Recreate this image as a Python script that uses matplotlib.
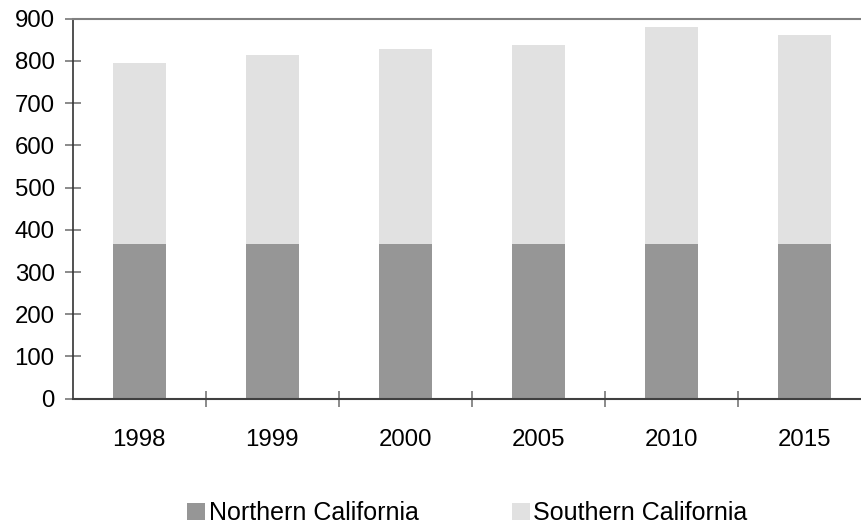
import matplotlib
matplotlib.use("Agg")
import matplotlib.pyplot as plt
from matplotlib.patches import Patch

years = ["1998", "1999", "2000", "2005", "2010", "2015"]
northern = [366, 366, 366, 366, 366, 366]
southern = [429, 448, 463, 472, 515, 496]
series_names = ["Northern California", "Southern California"]

plt.rcParams['font.family'] = ['Liberation Sans', 'DejaVu Sans']

fig = plt.figure(figsize=(8.62, 5.25), dpi=100)
ax = fig.add_axes([72.7 / 862, (525 - 398.7) / 525, 798 / 862, 380 / 525])

x = list(range(len(years)))
ax.bar(x, northern, width=0.4, color="#969696", label=series_names[0])
ax.bar(x, southern, width=0.4, bottom=northern, color="#e1e1e1", label=series_names[1])

ax.set_xlim(-0.5, len(years) - 0.5)
ax.set_ylim(0, 900)
ax.set_yticks(range(0, 1000, 100))
ax.set_xticks(x)
ax.set_xticklabels(years)
ax.set_xticks([i + 0.5 for i in range(len(years) - 1)], minor=True)

ax.spines["right"].set_visible(False)
ax.spines["top"].set_color("#808080")
ax.spines["top"].set_linewidth(1.5)
ax.spines["left"].set_color("#333333")
ax.spines["left"].set_linewidth(1.2)
ax.spines["bottom"].set_color("#404040")
ax.spines["bottom"].set_linewidth(1.5)

ax.tick_params(axis="y", direction="inout", length=12, width=1.2, color="#777777",
               labelsize=17.3, pad=7, labelcolor="black")
ax.tick_params(axis="x", which="major", length=0, labelsize=17.3, pad=22, labelcolor="black")
ax.tick_params(axis="x", which="minor", direction="inout", length=12, width=1.2, color="#777777")

handles = [Patch(facecolor="#969696"), Patch(facecolor="#e1e1e1")]
fig.legend(handles, series_names, loc="center", bbox_to_anchor=(467.5 / 862, 1 - 513.3 / 525),
           ncol=2, frameon=False, fontsize=18, handlelength=0.72, handleheight=0.72,
           handletextpad=0.15, columnspacing=3.7, borderaxespad=0, borderpad=0)

fig.savefig("out.png", dpi=100)
